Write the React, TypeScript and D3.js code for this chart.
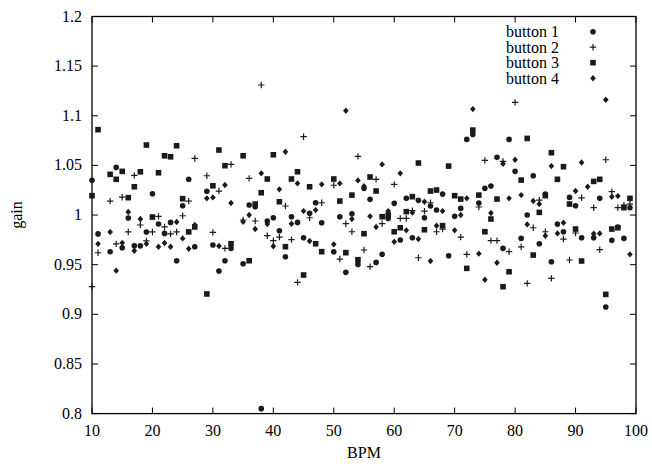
import React from "react";
import * as d3 from "d3";

// [BPM, gain] pairs
const button1: [number, number][] = [
  [10, 1.035], [11, 0.981], [13, 0.963], [14, 1.048], [15, 0.967], [16, 0.997], [17, 0.969], [18, 0.969], [19, 0.983],
  [20, 1.0215], [21, 0.991], [22, 0.9815], [23, 0.9926], [24, 0.954], [25, 1.0094], [26, 1.036], [27, 0.968],
  [29, 1.024], [30, 0.9698], [31, 0.9436], [32, 0.954], [33, 0.9664], [35, 0.951], [36, 1.0101], [37, 1.0084],
  [38, 0.805], [39, 0.994], [40, 0.9973], [41, 0.9842], [42, 0.958], [43, 0.9983], [44, 0.9926], [45, 0.9772],
  [46, 1.0017], [47, 1.0124], [48, 0.9923], [50, 0.9631], [51, 0.9983], [52, 0.9423], [53, 1.0013], [54, 0.9503],
  [55, 1.0269], [56, 1.0158], [57, 0.9523], [58, 0.9604], [59, 0.9966], [60, 1.0118], [61, 0.9748], [62, 1.0168],
  [63, 0.9772], [64, 1.0148], [65, 0.9973], [66, 1.0091], [67, 1.005], [68, 1.0211], [69, 0.959], [70, 0.9987],
  [71, 1.0067], [72, 1.0762], [73, 1.0812], [74, 1.0121], [75, 1.0269], [76, 1.0292], [77, 1.0581], [78, 0.9664],
  [79, 1.0762], [80, 1.044], [81, 0.9765], [82, 1.0], [83, 1.0396], [84, 0.9711], [85, 1.0211], [86, 0.953],
  [87, 0.9909], [88, 0.9832], [89, 1.0178], [90, 1.0094], [91, 0.9772], [93, 0.9772], [94, 1.0168], [95, 0.9074],
  [96, 0.9745], [97, 0.988], [98, 0.9765], [99, 1.0074],
];
const button2: [number, number][] = [
  [10, 0.928], [11, 0.962], [13, 1.014], [14, 0.971], [15, 1.018], [16, 0.983], [17, 1.04], [18, 0.99], [19, 0.974],
  [20, 0.983], [21, 0.9987], [22, 0.988], [23, 0.981], [24, 0.983], [25, 0.9993], [26, 1.014], [27, 1.057],
  [29, 1.0396], [30, 0.9825], [31, 1.0242], [32, 0.9664], [33, 1.051], [35, 0.995], [36, 1.0369], [37, 0.994],
  [38, 1.131], [39, 0.9792], [40, 0.9742], [41, 0.9778], [42, 1.0091], [43, 0.9752], [44, 0.9322], [45, 1.0789],
  [46, 0.9973], [48, 1.0124], [50, 1.03], [51, 0.9557], [52, 0.9913], [53, 0.9832], [54, 1.0591], [55, 0.9648],
  [56, 0.948], [57, 1.0359], [58, 0.9913], [60, 1.0309], [61, 0.9966], [62, 0.9966], [63, 1.0044], [64, 0.957],
  [65, 1.004], [66, 1.0124], [67, 0.9832], [68, 0.9859], [71, 0.9778], [72, 0.9604], [74, 1.0081], [75, 1.0551],
  [76, 0.9742], [77, 0.9742], [78, 1.054], [79, 0.9631], [80, 1.1135], [81, 0.968], [82, 0.9312], [83, 0.9872],
  [84, 1.015], [85, 0.9832], [86, 0.9362], [88, 0.9758], [89, 0.9547], [90, 0.9819], [91, 1.0174], [93, 1.0074],
  [94, 0.9651], [95, 1.0557], [96, 1.0235], [97, 1.0074], [98, 1.01], [99, 1.011],
];
const button3: [number, number][] = [
  [10, 1.0195], [11, 1.086], [13, 1.041], [14, 1.036], [15, 1.044], [16, 1.0175], [17, 1.0285], [18, 1.0436], [19, 1.0705],
  [20, 0.998], [21, 1.0426], [22, 1.0597], [23, 1.0587], [24, 1.0698], [25, 1.0165], [26, 0.983], [27, 0.988],
  [29, 0.9205], [30, 1.0295], [31, 1.0655], [32, 1.0497], [33, 0.9711], [35, 1.0597], [36, 0.954], [37, 1.0111],
  [38, 1.0225], [39, 1.0363], [40, 1.0607], [41, 1.0134], [42, 0.9681], [43, 1.0363], [44, 1.0436], [45, 0.9396],
  [46, 1.0285], [47, 0.9711], [48, 0.9631], [50, 1.0363], [51, 1.0141], [52, 0.9621], [53, 1.0201], [54, 0.955],
  [55, 0.9812], [56, 1.0383], [57, 1.0242], [58, 0.9983], [59, 1.0], [60, 0.9832], [61, 0.9872], [62, 1.0034],
  [63, 1.0185], [64, 1.0524], [65, 0.9852], [66, 1.0242], [67, 1.0252], [68, 0.9893], [69, 1.0493], [70, 1.0195],
  [71, 1.0161], [72, 0.9463], [73, 1.0856], [74, 1.0201], [75, 0.9832], [76, 0.996], [77, 1.0161], [78, 0.9278],
  [79, 0.9429], [81, 1.0352], [82, 1.0772], [83, 0.9597], [84, 1.0027], [85, 1.0195], [86, 1.0628], [87, 1.036],
  [88, 1.0487], [89, 1.0111], [90, 0.9859], [91, 0.9537], [93, 1.0339], [94, 1.036], [95, 0.9201], [96, 0.9859],
  [97, 0.9872], [98, 1.0074], [99, 1.0168],
];
const button4: [number, number][] = [
  [11, 0.971], [13, 0.983], [14, 0.944], [15, 0.972], [16, 1.003], [17, 0.964], [18, 0.996], [19, 0.971],
  [21, 0.968], [22, 0.9718], [23, 0.968], [24, 0.993], [25, 0.9765], [26, 0.966], [27, 0.99],
  [29, 1.0168], [30, 1.0178], [31, 0.9688], [32, 1.0302], [33, 1.0121], [35, 0.9933], [36, 1.0], [37, 0.9859],
  [38, 1.042], [39, 0.991], [40, 0.9685], [41, 1.0259], [42, 1.0638], [43, 0.9913], [44, 1.0319], [45, 1.004],
  [46, 0.9738], [47, 1.005], [48, 1.0309], [50, 0.9705], [51, 1.0319], [52, 1.1051], [53, 0.996], [54, 1.0349],
  [55, 1.029], [56, 0.9987], [57, 0.9879], [58, 1.051], [59, 1.004], [60, 0.9731], [61, 1.042], [62, 0.9846],
  [63, 1.0024], [64, 0.9758], [65, 1.0134], [66, 0.9537], [67, 0.9893], [68, 1.004], [70, 0.9846], [71, 1.0],
  [72, 1.0168], [73, 1.1067], [74, 0.9611], [75, 0.9349], [76, 1.002], [77, 0.952], [78, 1.0517], [79, 1.0168],
  [80, 1.0557], [81, 1.0201], [82, 0.9906], [83, 1.0141], [84, 1.0111], [85, 0.9792], [86, 1.0493], [87, 0.9815],
  [88, 0.9923], [90, 1.0242], [91, 1.053], [92, 1.0285], [93, 0.9812], [94, 0.9815], [95, 1.1161], [96, 1.0185],
  [97, 1.0191], [99, 0.9604],
];

const seriesNames = ["button 1", "button 2", "button 3", "button 4"];
const xTicks = [10, 20, 30, 40, 50, 60, 70, 80, 90, 100];
const yTicks = [0.8, 0.85, 0.9, 0.95, 1, 1.05, 1.1, 1.15, 1.2];

const W = 652;
const H = 464;
const M = { left: 92, right: 16, top: 16.5, bottom: 50.4 };
const FONT = "'Liberation Serif', 'Times New Roman', serif";

type Shape = "circle" | "plus" | "square" | "diamond";
const shapes: Shape[] = ["circle", "plus", "square", "diamond"];

function Marker({ shape, x, y }: { shape: Shape; x: number; y: number }) {
  if (shape === "circle") return <circle cx={x} cy={y} r={2.8} fill="#1a1a1a" />;
  if (shape === "square") return <rect x={x - 2.8} y={y - 2.8} width={5.6} height={5.6} fill="#1a1a1a" />;
  if (shape === "plus")
    return (
      <path d={`M${x - 3.2},${y}H${x + 3.2}M${x},${y - 3.2}V${y + 3.2}`} stroke="#1a1a1a" strokeWidth={1.2} />
    );
  return (
    <path d={`M${x},${y - 3.2}L${x + 2.8},${y}L${x},${y + 3.2}L${x - 2.8},${y}Z`} fill="#1a1a1a" />
  );
}

export default function App() {
  const x = d3.scaleLinear().domain([10, 100]).range([M.left, W - M.right]);
  const y = d3.scaleLinear().domain([0.8, 1.2]).range([H - M.bottom, M.top]);
  const data = [button1, button2, button3, button4];
  const fmt = (v: number) => String(+v.toFixed(2));
  const x0 = M.left, x1 = W - M.right, y0 = H - M.bottom, y1 = M.top;
  const tl = 6;

  return (
    <svg width={W} height={H} style={{ position: "absolute", left: 0, top: 0, background: "#fff" }}>
      <rect x={0} y={0} width={W} height={H} fill="#fff" />
      {/* ticks */}
      {xTicks.map((t) => (
        <g key={"x" + t}>
          <line x1={x(t)} x2={x(t)} y1={y0} y2={y0 - tl} stroke="#000" strokeWidth={1} />
          <line x1={x(t)} x2={x(t)} y1={y1} y2={y1 + tl} stroke="#000" strokeWidth={1} />
          <text x={x(t)} y={y0 + 22} textAnchor="middle" fontFamily={FONT} fontSize={16} fill="#000">
            {t}
          </text>
        </g>
      ))}
      {yTicks.map((t) => (
        <g key={"y" + t}>
          <line x1={x0} x2={x0 + tl} y1={y(t)} y2={y(t)} stroke="#000" strokeWidth={1} />
          <line x1={x1} x2={x1 - tl} y1={y(t)} y2={y(t)} stroke="#000" strokeWidth={1} />
          <text x={x0 - 10} y={y(t) + 5} textAnchor="end" fontFamily={FONT} fontSize={16} fill="#000">
            {fmt(t)}
          </text>
        </g>
      ))}
      <rect x={x0} y={y1} width={x1 - x0} height={y0 - y1} fill="none" stroke="#000" strokeWidth={1.3} />
      {/* points */}
      {data.map((s, i) =>
        s.map(([b, g], j) => <Marker key={i + "-" + j} shape={shapes[i]} x={x(b)} y={y(g)} />)
      )}
      {/* legend */}
      {seriesNames.map((n, i) => (
        <g key={n}>
          <text x={559} y={37 + i * 15.5} textAnchor="end" fontFamily={FONT} fontSize={16} fill="#000">
            {n}
          </text>
          <Marker shape={shapes[i]} x={593} y={31.7 + i * 15.5} />
        </g>
      ))}
      {/* axis titles */}
      <text x={(x0 + x1) / 2} y={H - 6} textAnchor="middle" fontFamily={FONT} fontSize={16} fill="#000">
        BPM
      </text>
      <text
        transform={`translate(22,${(y0 + y1) / 2}) rotate(-90)`}
        textAnchor="middle"
        fontFamily={FONT}
        fontSize={16}
        fill="#000"
      >
        gain
      </text>
    </svg>
  );
}
